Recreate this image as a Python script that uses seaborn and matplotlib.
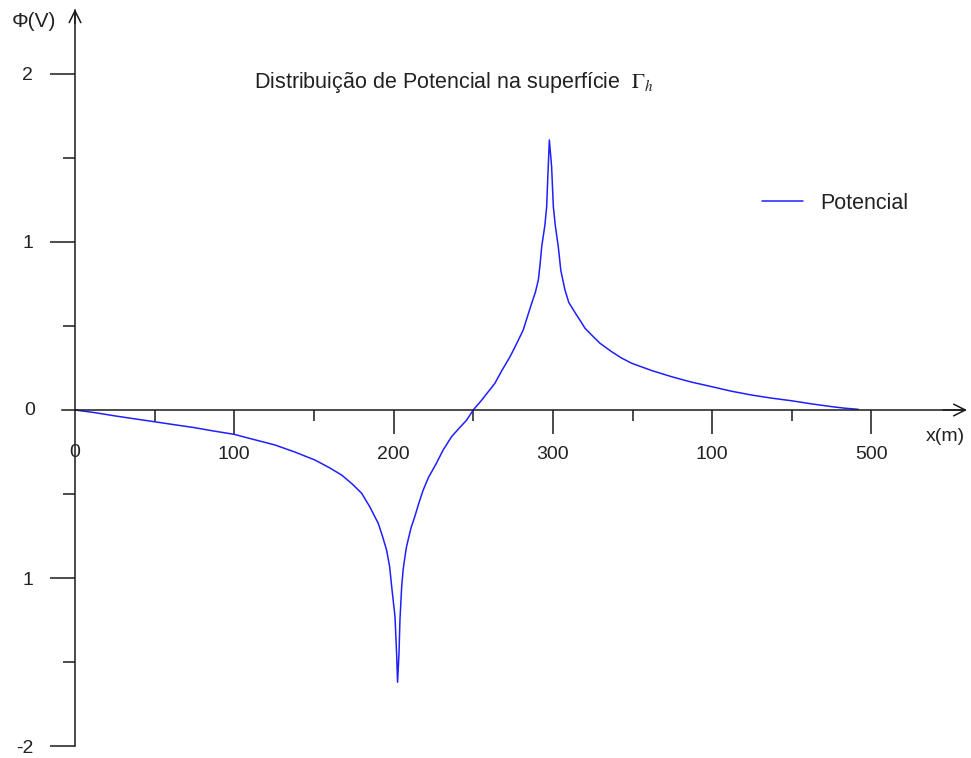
import matplotlib
matplotlib.use("Agg")
import matplotlib.pyplot as plt
import seaborn as sns
import pandas as pd

# Potential along the surface (x in metres, potential in volts)
x_m = [0, 12, 25, 37, 50, 62, 75, 87, 100, 112, 125.5, 138, 150.7, 160,
       167.4, 174, 180, 185, 190.4, 193, 195.6, 197.5, 198.8, 200.9, 201.9,
       202.5, 203.4, 204, 205.1, 206, 207.2, 208, 209.1, 211, 213.3, 216,
       218.6, 222, 226.9, 231, 236.4, 241, 245.9, 250, 255, 263.6, 268,
       273.1, 277, 281.4, 284, 286.7, 289, 290.9, 292, 293, 295, 296.1,
       297.1, 297.8, 299.2, 300.3, 301.5, 303.4, 305, 307.6, 310, 314.9,
       318, 320.2, 325, 329.6, 336.9, 343, 349.5, 362, 374.6, 387, 399.7,
       412, 424.8, 437, 449.9, 462, 475, 483, 491.7]
phi_v = [0, -0.015, -0.035, -0.052, -0.07, -0.087, -0.105, -0.125, -0.145,
         -0.175, -0.208, -0.25, -0.298, -0.345, -0.387, -0.44, -0.496,
         -0.575, -0.675, -0.75, -0.833, -0.93, -1.05, -1.23, -1.45, -1.62,
         -1.45, -1.25, -1.05, -0.95, -0.87, -0.82, -0.774, -0.70, -0.635,
         -0.55, -0.476, -0.40, -0.317, -0.24, -0.159, -0.11, -0.06, 0.0,
         0.055, 0.159, 0.235, 0.317, 0.39, 0.476, 0.555, 0.635, 0.70, 0.774,
         0.87, 0.972, 1.10, 1.21, 1.45, 1.607, 1.45, 1.21, 1.10, 0.972, 0.83,
         0.714, 0.64, 0.565, 0.52, 0.486, 0.44, 0.397, 0.347, 0.31, 0.278,
         0.235, 0.198, 0.166, 0.139, 0.112, 0.089, 0.071, 0.055, 0.037,
         0.02, 0.011, 0.004]

x_major = [100, 200, 300, 400, 500]
x_major_labels = ["100", "200", "300", "100", "500"]
x_minor = [50, 150, 250, 350, 450]
y_major = [2, 1, -1, -2]
y_major_labels = ["2", "1", "1", "-2"]
y_minor = [1.5, 0.5, -0.5, -1.5]

sns.set_theme(style="white")
plt.rcParams["font.family"] = ["Liberation Sans", "DejaVu Sans"]
plt.rcParams["mathtext.fontset"] = "stix"

df = pd.DataFrame({"x": x_m, "phi": phi_v})

fig = plt.figure(figsize=(9.71, 7.58), dpi=100)
ax = fig.add_axes([0, 0, 1, 1])
ax.patch.set_alpha(0)

sns.lineplot(data=df, x="x", y="phi", ax=ax, color="#1f1fff", lw=1.1,
             estimator=None, sort=False, label="Potencial")

ax.set_xlim(-47.08, 562.5)
ax.set_ylim(-2.071, 2.440)

axis_col = "#1a1a1a"
txt_col = "#222222"
fs = 14
for side in ["top", "right"]:
    ax.spines[side].set_visible(False)
ax.spines["left"].set_position(("data", 0))
ax.spines["bottom"].set_position(("data", 0))
ax.spines["left"].set_bounds(-2.0, 2.38)
ax.spines["bottom"].set_bounds(-8.2, 559)
for side in ["left", "bottom"]:
    ax.spines[side].set_color(axis_col)
    ax.spines[side].set_linewidth(1.1)

# axis arrowheads
ax.annotate("", xy=(0, 2.385), xytext=(0, 2.30),
            arrowprops=dict(arrowstyle="->,head_length=0.7,head_width=0.35",
                            color=axis_col, lw=1.1, shrinkA=0, shrinkB=0))
ax.annotate("", xy=(560, 0), xytext=(545, 0),
            arrowprops=dict(arrowstyle="->,head_length=0.7,head_width=0.35",
                            color=axis_col, lw=1.1, shrinkA=0, shrinkB=0))

ax.set_xticks(x_major)
ax.set_xticklabels(x_major_labels)
ax.set_xticks(x_minor, minor=True)
ax.set_yticks(y_major)
ax.set_yticklabels(y_major_labels)
ax.set_yticks(y_minor, minor=True)
ax.tick_params(axis="x", which="major", direction="out", length=17, width=1.1,
               color=axis_col, pad=9, labelsize=fs, labelcolor=txt_col,
               bottom=True)
ax.tick_params(axis="x", which="minor", direction="out", length=8, width=1.1,
               color=axis_col, bottom=True)
ax.tick_params(axis="y", which="major", direction="out", length=18, width=1.1,
               color=axis_col, pad=12, labelsize=fs, labelcolor=txt_col,
               left=True)
ax.tick_params(axis="y", which="minor", direction="out", length=9, width=1.1,
               color=axis_col, left=True)
ax.set_xlabel("")
ax.set_ylabel("")

# origin labels
ax.text(0, -0.25, "0", ha="center", va="center", fontsize=fs, color=txt_col)
ax.text(-28.5, 0, "0", ha="center", va="center", fontsize=fs, color=txt_col)

# axis names
ax.text(-26, 2.31, "Φ(V)", ha="center", va="center", fontsize=15,
        color=txt_col)
ax.text(546.5, -0.16, "x(m)", ha="center", va="center", fontsize=fs,
        color=txt_col)

ax.text(238, 1.95, r"Distribuição de Potencial na superfície  $\Gamma_h$",
        ha="center", va="center", fontsize=15.5, color=txt_col)

ax.legend(loc="center left", bbox_to_anchor=(0.765, 0.732), frameon=False,
          fontsize=15.5, handlelength=1.9, handletextpad=0.8,
          labelcolor=txt_col)

fig.savefig("out.png", dpi=100)
